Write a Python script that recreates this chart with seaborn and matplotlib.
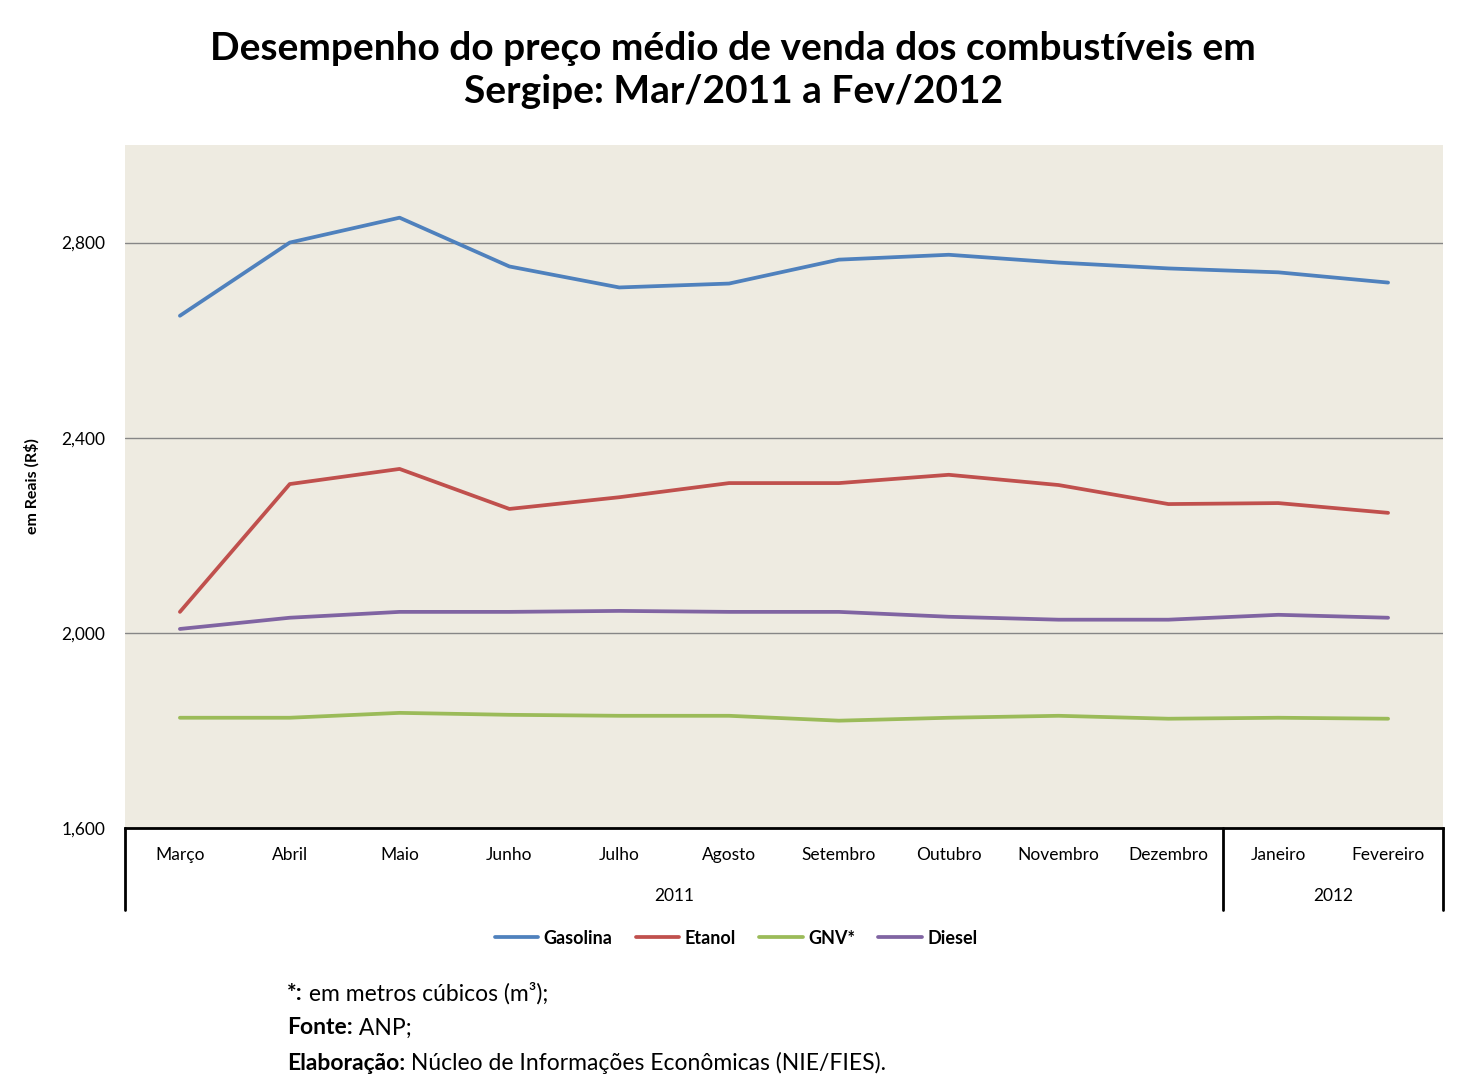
import matplotlib
matplotlib.use("Agg")
import matplotlib.pyplot as plt
import matplotlib.ticker as mticker
import seaborn as sns
import pandas as pd

# data
meses = ['Março', 'Abril', 'Maio', 'Junho', 'Julho', 'Agosto', 'Setembro',
         'Outubro', 'Novembro', 'Dezembro', 'Janeiro', 'Fevereiro']
anos = ['2011', '2012']
gasolina = [2650, 2800, 2851, 2751, 2708, 2716, 2765, 2775, 2759, 2747, 2739, 2718]
etanol = [2043, 2305, 2336, 2254, 2278, 2307, 2307, 2324, 2303, 2264, 2266, 2246]
gnv = [1826, 1826, 1836, 1832, 1830, 1830, 1820, 1826, 1830, 1824, 1826, 1824]
diesel = [2008, 2031, 2043, 2043, 2045, 2043, 2043, 2033, 2027, 2027, 2037, 2031]

series = {'Gasolina': gasolina, 'Etanol': etanol, 'GNV*': gnv, 'Diesel': diesel}
cores = {'Gasolina': '#4F81BD', 'Etanol': '#C0504D', 'GNV*': '#9BBB59', 'Diesel': '#8064A2'}

df = pd.concat([pd.DataFrame({'mes': meses, 'preco': v, 'comb': k}) for k, v in series.items()])

sns.set_style("white")
plt.rcParams['font.family'] = ['Lato', 'DejaVu Sans']
plt.rcParams['text.color'] = 'black'
plt.rcParams['axes.labelcolor'] = 'black'
plt.rcParams['xtick.color'] = 'black'
plt.rcParams['ytick.color'] = 'black'

fig = plt.figure(figsize=(14.66, 10.87), dpi=100)
ax = fig.add_axes([125/1466, 1-828/1087, 1318/1466, 683/1087])
ax.set_facecolor('#EEEBE1')

sns.lineplot(data=df, x='mes', y='preco', hue='comb', palette=cores, linewidth=2.7,
             sort=False, ax=ax)

ax.set_xlim(-0.5, 11.5)
ax.set_ylim(1600, 3000)
ax.set_yticks([1600, 2000, 2400, 2800])
ax.yaxis.set_major_formatter(mticker.FuncFormatter(lambda v, p: f"{v:,.0f}"))
ax.grid(axis='y', color='#868686', linewidth=1)
ax.set_axisbelow(True)
for s in ['left', 'right', 'top']:
    ax.spines[s].set_visible(False)
ax.spines['bottom'].set_color('black')
ax.spines['bottom'].set_linewidth(2)
ax.tick_params(axis='y', length=0, labelsize=12.5, pad=14)
ax.tick_params(axis='x', length=0, labelsize=12.5, pad=14)
ax.set_xlabel('')
ax.set_ylabel('em Reais (R$)', fontsize=11.5, fontweight='bold')
ax.yaxis.set_label_coords((40-125)/1318, 0.5)

# multi-level category axis
trans = ax.get_xaxis_transform()
for xs in [-0.5, 9.5, 11.5]:
    ax.plot([xs, xs], [0, -0.12], color='black', linewidth=2, transform=trans, clip_on=False)
ax.text(4.5, -0.099, anos[0], transform=trans, ha='center', va='center', fontsize=12.5)
ax.text(10.5, -0.099, anos[1], transform=trans, ha='center', va='center', fontsize=12.5)

# legend
h, l = ax.get_legend_handles_labels()
ax.get_legend().remove()
leg = fig.legend(h, l, loc='center', bbox_to_anchor=(736/1466, 1-938/1087), ncol=4,
                 frameon=False, fontsize=13, handlelength=2.4, handletextpad=0.3,
                 columnspacing=1.3)
for t in leg.get_texts():
    t.set_fontweight('bold')

fig.text(0.5, 1-70/1087, 'Desempenho do preço médio de venda dos combustíveis em\nSergipe: Mar/2011 a Fev/2012',
         ha='center', va='center', fontsize=28, fontweight='bold', linespacing=1.3)

# footnotes
notas = [('*:', ' em metros cúbicos (m³);'), ('Fonte:', ' ANP;'),
         ('Elaboração:', ' Núcleo de Informações Econômicas (NIE/FIES).')]
for i, (b, r) in enumerate(notas):
    y = 1 - (993 + 35*i)/1087
    t = fig.text(287/1466, y, b, fontsize=16.5, fontweight='bold', va='center')
    fig.canvas.draw()
    bb = t.get_window_extent()
    fig.text(bb.x1/1466, y, r, fontsize=16.5, va='center')

fig.savefig('out.png', dpi=100, facecolor='white')
